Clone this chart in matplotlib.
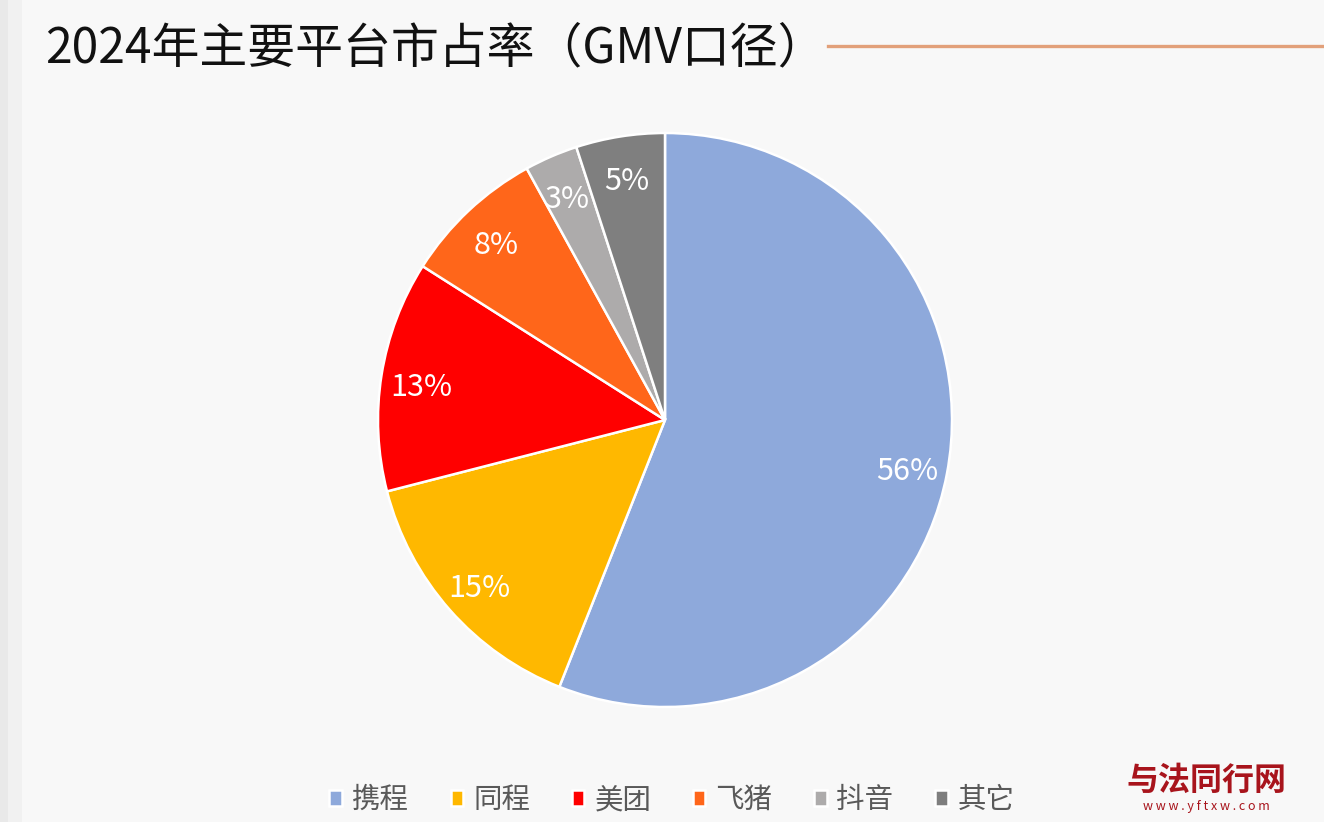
import matplotlib
matplotlib.use("Agg")
import matplotlib.pyplot as plt
from matplotlib.patches import Rectangle
from matplotlib.lines import Line2D

plt.rcParams['font.family'] = ['Noto Sans CJK SC', 'DejaVu Sans']

title = "2024年主要平台市占率（GMV口径）"
categories = ["携程", "同程", "美团", "飞猪", "抖音", "其它"]
shares = [56, 15, 13, 8, 3, 5]
colors = ["#8EA9DB", "#FFB800", "#FF0000", "#FF661A", "#ADABAB", "#7F7F7F"]

W, H = 1324, 822
fig = plt.figure(figsize=(W / 100, H / 100), dpi=100)
fig.patch.set_facecolor("#F8F8F8")

# left grey strip
fig.patches.append(Rectangle((0, 0), 8 / W, 1, transform=fig.transFigure,
                             facecolor="#E9E9E9", edgecolor="none", zorder=0))
fig.patches.append(Rectangle((8 / W, 0), 14 / W, 1, transform=fig.transFigure,
                             facecolor="#F1F1F1", edgecolor="none", zorder=0))

# title
fig.text(45 / W, 1 - 49 / H, title, fontsize=34.5, color="#111111",
         ha="left", va="center")
fig.add_artist(Line2D([828 / W, 1.0], [1 - 46.5 / H, 1 - 46.5 / H],
                      transform=fig.transFigure, color="#E2A07A", lw=2.4))

# pie
cx, cy, r = 665, 420, 287
ax = fig.add_axes([(cx - r) / W, (H - cy - r) / H, 2 * r / W, 2 * r / H])
ax.set_facecolor("none")
wedges, texts, autotexts = ax.pie(
    shares, colors=colors, startangle=90, counterclock=False,
    autopct=lambda p: f"{p:.0f}%", pctdistance=0.86, radius=1,
    wedgeprops=dict(edgecolor="white", linewidth=1.8),
    textprops=dict(color="white", fontsize=22))
for t in autotexts:
    x, y = t.get_position()
    t.set_position((x, y - 0.02))
ax.set_xlim(-1, 1)
ax.set_ylim(-1, 1)
ax.set_aspect("equal")
ax.axis("off")

# legend
leg = fig.legend(wedges, categories, loc="center", bbox_to_anchor=(672 / W, 1 - 800 / H),
                 ncol=6, frameon=False, fontsize=20.5, handlelength=0.45, handleheight=0.45,
                 handletextpad=0.35, columnspacing=1.45, labelcolor="#595959")

# watermark
fig.text(1206 / W, 1 - 781 / H, "与法同行网", fontsize=23, fontweight="bold",
         color="#A8141C", ha="center", va="center")
fig.text(1206 / W, 1 - 806 / H, "w w w . y f t x w . c o m", fontsize=9,
         color="#A8141C", ha="center", va="center")

fig.savefig("out.png", dpi=100, facecolor=fig.get_facecolor())
